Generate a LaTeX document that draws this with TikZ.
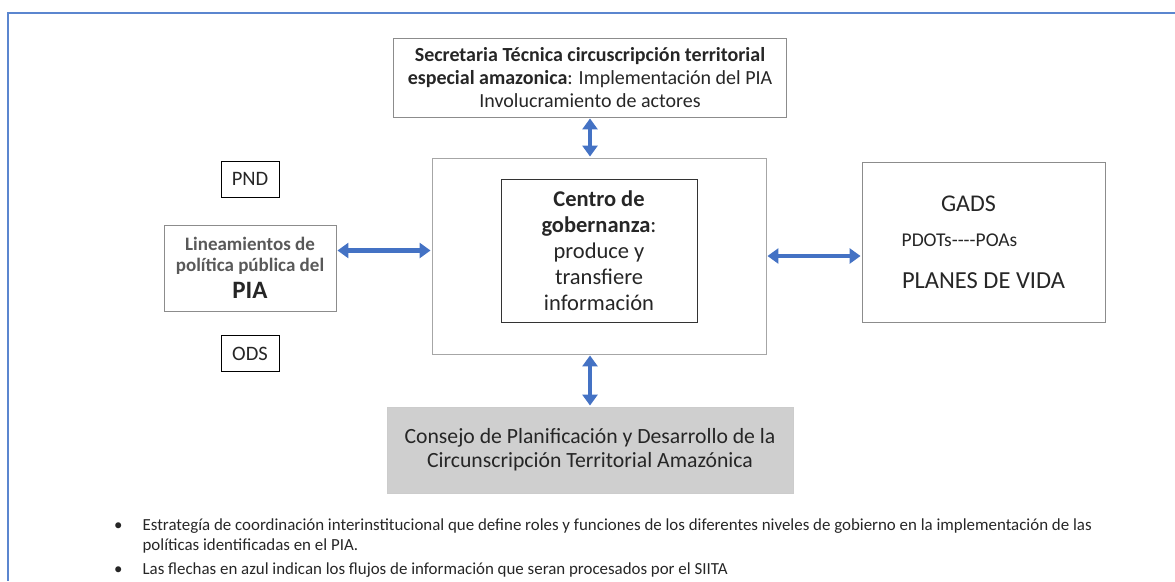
\documentclass[tikz,border=0pt]{standalone}
\usepackage{fontspec}
\setmainfont{Carlito}
\usetikzlibrary{arrows.meta,positioning}
\definecolor{flowblue}{HTML}{4472C4}
\definecolor{framblue}{HTML}{5B86CF}
\definecolor{boxgray}{HTML}{8C8C8C}
\definecolor{txtgray}{HTML}{595959}
\begin{document}
\begin{tikzpicture}[
    x=1pt, y=-1pt,
    font=\fontsize{20}{23}\selectfont, text=black!85,
    box/.style={draw=boxgray, line width=0.9pt, align=center, inner sep=0pt},
    tag/.style={draw=black, line width=0.9pt, inner sep=0pt, minimum width=58pt, minimum height=36pt, font=\fontsize{20.5}{22}\selectfont},
    flow/.style={draw=flowblue, line width=4.5pt, {Triangle[length=11pt,width=15pt]}-{Triangle[length=11pt,width=15pt]}, shorten <=1pt, shorten >=1pt},
  ]
    \useasboundingbox (0,0) rectangle (1175,581);
    \draw[framblue, line width=2pt] (1175,13) -- (8,13) -- (8,581);
    \node[box, minimum width=393pt, minimum height=79pt] (sec) at (590,77.5) {\textbf{Secretaria Técnica circuscripción territorial}\\\textbf{especial amazonica}: Implementación del PIA\\Involucramiento de actores};
    \node[box, draw=black!35, minimum width=334pt, minimum height=196pt] (outer) at (599,256) {};
    \node[box, draw=black!80, minimum width=196pt, minimum height=143pt, font=\fontsize{22.5}{26}\selectfont] (centro) at (599,250.5) {\textbf{Centro de}\\\textbf{gobernanza}:\\produce y\\transfiere\\información};
    \node[box, minimum width=172pt, minimum height=86pt, font=\fontsize{19}{21}\selectfont] (lin) at (250,268) {\textcolor{txtgray}{\textbf{Lineamientos de}}\\\textcolor{txtgray}{\textbf{política pública del}}\\[6pt]{\fontsize{25}{26}\selectfont\textbf{PIA}}};
    \node[tag, above=27pt of lin] (pnd) {PND};
    \node[tag, below=24pt of lin] (ods) {ODS};
    \node[box, minimum width=243pt, minimum height=160pt] (gads) at (983.5,242) {\fontsize{24}{26}\selectfont GADS\rule{30pt}{0pt}\\[12pt]{\fontsize{19.5}{21}\selectfont PDOTs-{}-{}-{}-POAs}\rule{48pt}{0pt}\\[19pt]\fontsize{24.5}{26}\selectfont PLANES DE VIDA};
    \node[box, draw=black!20, fill=black!19, minimum width=406pt, minimum height=86pt, font=\fontsize{21.7}{24}\selectfont] (consejo) at (590,450) {Consejo de Planificación y Desarrollo de la\\Circunscripción Territorial Amazónica};
    \node[anchor=west, font=\fontsize{16.9}{20}\selectfont, inner sep=0pt] (notes) at (114,548) {\begin{tabular}{@{}l@{\hspace{20pt}}l@{}}\textbullet & Estrategía de coordinación interinstitucional que define roles y funciones de los diferentes niveles de gobierno en la implementación de las\\ & políticas identificadas en el PIA.\\[4pt]\textbullet & Las flechas en azul indican los flujos de información que seran procesados por el SIITA\end{tabular}};
    \draw[flow] (sec.south) -- (sec.south |- outer.north);
    \draw[flow] (lin.east |- centro.west) -- (centro.west -| outer.west);
    \draw[flow] (outer.east) -- (outer.east -| gads.west);
    \draw[flow] (consejo.north |- outer.south) -- (consejo.north);
  \end{tikzpicture}
\end{document}
